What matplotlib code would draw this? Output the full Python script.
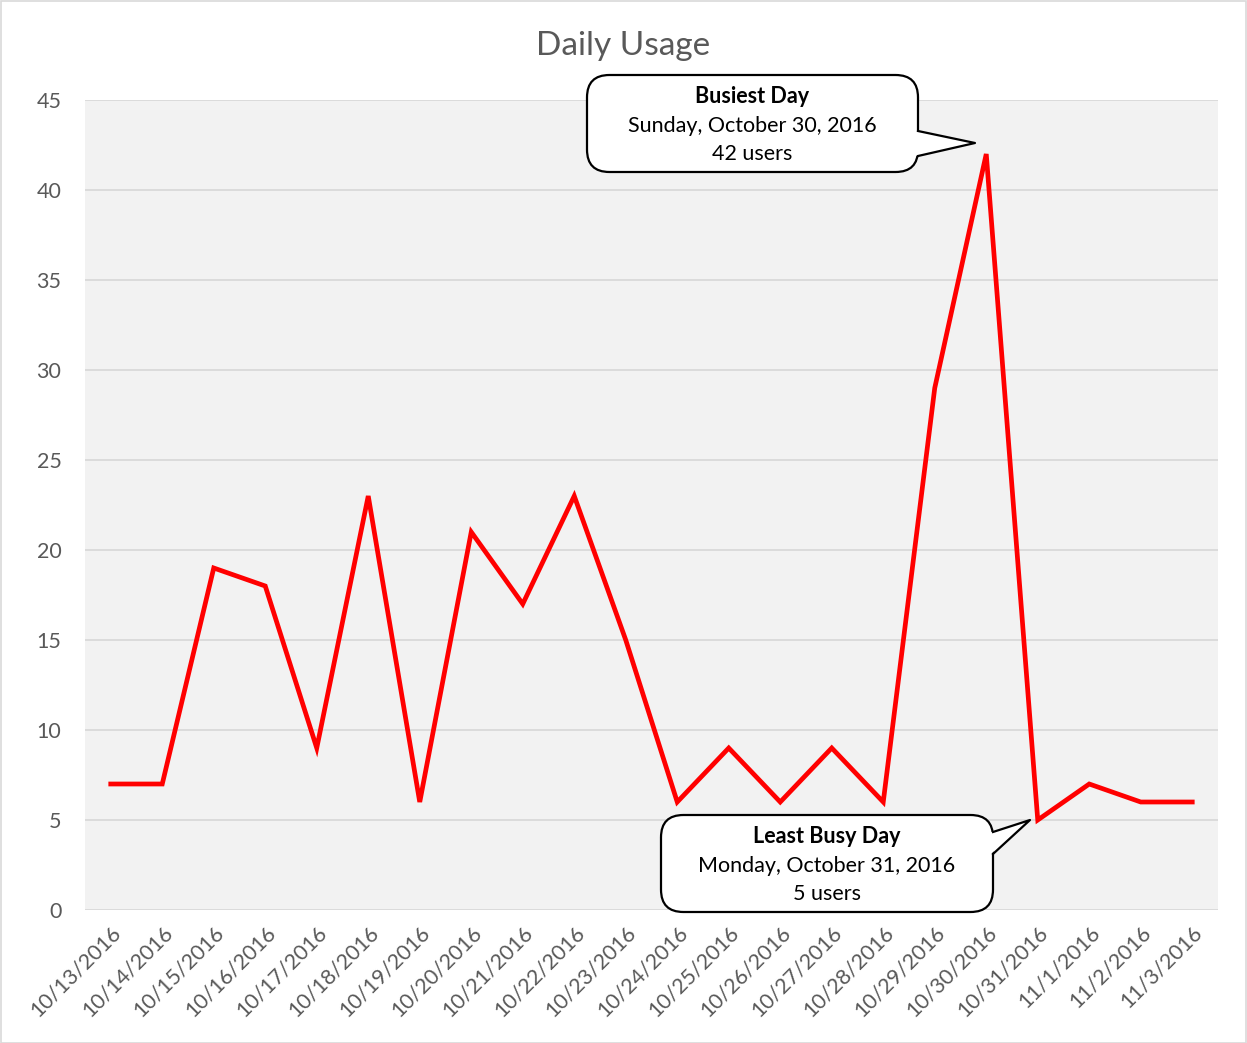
import matplotlib.pyplot as plt
from matplotlib.patches import FancyBboxPatch, Polygon, Rectangle
from matplotlib.lines import Line2D

plt.rcParams['font.family'] = ['Lato', 'DejaVu Sans']

dates = ["10/13/2016", "10/14/2016", "10/15/2016", "10/16/2016", "10/17/2016",
         "10/18/2016", "10/19/2016", "10/20/2016", "10/21/2016", "10/22/2016",
         "10/23/2016", "10/24/2016", "10/25/2016", "10/26/2016", "10/27/2016",
         "10/28/2016", "10/29/2016", "10/30/2016", "10/31/2016", "11/1/2016",
         "11/2/2016", "11/3/2016"]
users = [7, 7, 19, 18, 9, 23, 6, 21, 17, 23, 15, 6, 9, 6, 9, 6, 29, 42, 5, 7, 6, 6]
yticks = [0, 5, 10, 15, 20, 25, 30, 35, 40, 45]

W, H = 1247, 1043
fig = plt.figure(figsize=(W / 100, H / 100), dpi=100)
fig.patches.append(Rectangle((0.5 / W, 0.5 / H), 1 - 1.5 / W, 1 - 1.5 / H,
                             transform=fig.transFigure, fill=False,
                             edgecolor='#D9D9D9', lw=1.2))

ax = fig.add_axes([85 / W, 1 - 910 / H, (1218 - 85) / W, (910 - 100) / H])
ax.set_facecolor('#F2F2F2')
x = list(range(len(dates)))
ax.plot(x, users, color='#FF0000', lw=3.4, solid_joinstyle='miter', zorder=3)
ax.set_xlim(-0.5, len(dates) - 0.5)
ax.set_ylim(0, 45)
ax.set_yticks(yticks)
ax.set_xticks(x)
ax.set_xticklabels(dates, rotation=45, ha='right', va='top', rotation_mode='anchor')
ax.grid(axis='y', color='#D9D9D9', lw=1.3)
ax.set_axisbelow(True)
for s in ax.spines.values():
    s.set_visible(False)
ax.tick_params(length=0, labelsize=15.5, colors='#595959')
ax.tick_params(axis='y', pad=17)
ax.tick_params(axis='x', pad=9)


def px(px_x, px_y):
    return (px_x / W, 1 - px_y / H)


fig.text(0.5, px(0, 46)[1], "Daily Usage", ha='center', va='center',
         fontsize=24, color='#595959')


def callout(x0, y0, x1, y1, base_top, base_bot, tip, lines):
    bx, by = px(x0, y1)
    bw, bh = (x1 - x0) / W, (y1 - y0) / H
    box = FancyBboxPatch((bx, by), bw, bh, boxstyle="round,pad=0,rounding_size=0.018",
                         transform=fig.transFigure, facecolor='white',
                         edgecolor='black', lw=1.6, zorder=5, mutation_aspect=W / H)
    fig.patches.append(box)
    pts = [px(*base_top), px(*tip), px(*base_bot)]
    fig.patches.append(Polygon([px(base_top[0] - 2, base_top[1])] + pts[1:2] +
                               [px(base_bot[0] - 2, base_bot[1])],
                               transform=fig.transFigure, facecolor='white',
                               edgecolor='none', zorder=6))
    xs = [p[0] for p in pts]
    ys = [p[1] for p in pts]
    fig.lines.append(Line2D(xs, ys, transform=fig.transFigure, color='black',
                            lw=1.6, zorder=7))
    cx = (x0 + x1) / 2
    cy = (y0 + y1) / 2 + 2
    step = 29
    for i, (t, w) in enumerate(lines):
        fx, fy = px(cx, cy + (i - 1) * step)
        fig.text(fx, fy, t, ha='center', va='center', fontsize=15.5,
                 fontweight=w, color='black', zorder=8)


callout(587, 75, 918, 172, (918, 131), (918, 156), (975, 143),
        [("Busiest Day", 'bold'), ("Sunday, October 30, 2016", 'normal'),
         ("42 users", 'normal')])
callout(661, 815, 993, 912, (993, 832), (993, 854), (1030, 820),
        [("Least Busy Day", 'bold'), ("Monday, October 31, 2016", 'normal'),
         ("5 users", 'normal')])

fig.savefig("out.png", dpi=100)
